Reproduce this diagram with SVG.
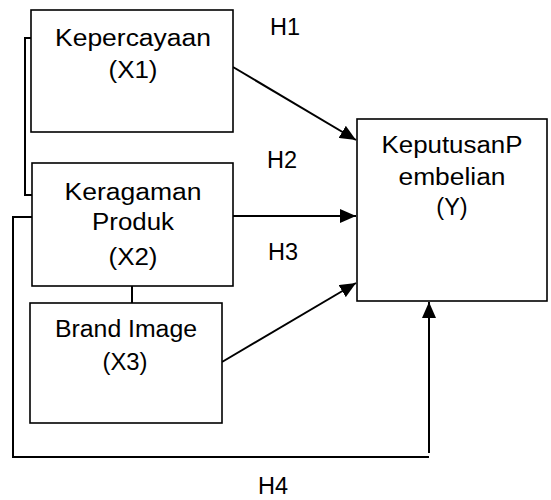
<svg xmlns="http://www.w3.org/2000/svg" width="551" height="500" viewBox="0 0 551 500">
<defs>
<marker id="ah" markerUnits="userSpaceOnUse" markerWidth="17" markerHeight="14" refX="16" refY="7" orient="auto">
<path d="M0,0 L16,7 L0,14 z" fill="#000"/>
</marker>
<style>
.box{fill:#fff;stroke:#000;stroke-width:1.6}
.t{font-family:"Liberation Sans",Arial,sans-serif;font-size:23.5px;fill:#000;text-anchor:middle}
.h{font-family:"Liberation Sans",Arial,sans-serif;font-size:23.5px;fill:#000}
.ln{fill:none;stroke:#000;stroke-width:2}
</style>
</defs>
<rect width="551" height="500" fill="#fff"/>
<g id="connectors">
<polyline class="ln" points="31,38 25,38 25,195 32,195" stroke-width="1.6"/>
<line class="ln" x1="132" y1="286" x2="132" y2="303" stroke-width="1.6"/>
<polyline class="ln" points="32,217 13,217 13,457 429,457"/>
<line class="ln" x1="429" y1="453" x2="429" y2="302" marker-end="url(#ah)"/>
<line class="ln" x1="233" y1="67" x2="356" y2="140" marker-end="url(#ah)"/>
<line class="ln" x1="233" y1="216" x2="356" y2="216" marker-end="url(#ah)"/>
<line class="ln" x1="222" y1="362" x2="356" y2="283" marker-end="url(#ah)"/>
</g>
<g id="x1">
<rect class="box" x="31" y="10" width="202" height="122"/>
<text class="t" x="133" y="46" textLength="156" lengthAdjust="spacingAndGlyphs">Kepercayaan</text>
<text class="t" x="133" y="78" textLength="49" lengthAdjust="spacingAndGlyphs">(X1)</text>
</g>
<g id="x2">
<rect class="box" x="32" y="163" width="201" height="123"/>
<text class="t" x="133" y="200" textLength="137" lengthAdjust="spacingAndGlyphs">Keragaman</text>
<text class="t" x="133" y="230" textLength="82" lengthAdjust="spacingAndGlyphs">Produk</text>
<text class="t" x="133" y="265" textLength="49" lengthAdjust="spacingAndGlyphs">(X2)</text>
</g>
<g id="x3">
<rect class="box" x="30" y="303" width="192" height="120"/>
<text class="t" x="126" y="337" textLength="142" lengthAdjust="spacingAndGlyphs">Brand Image</text>
<text class="t" x="125" y="370" textLength="45" lengthAdjust="spacingAndGlyphs">(X3)</text>
</g>
<g id="y">
<rect class="box" x="357" y="119" width="190" height="182"/>
<text class="t" x="452" y="153" textLength="141" lengthAdjust="spacingAndGlyphs">KeputusanP</text>
<text class="t" x="452" y="185" textLength="107" lengthAdjust="spacingAndGlyphs">embelian</text>
<text class="t" x="452" y="215">(Y)</text>
</g>
<g id="labels">
<text class="h" x="270" y="35">H1</text>
<text class="h" x="267" y="168">H2</text>
<text class="h" x="268" y="260">H3</text>
<text class="h" x="258" y="494">H4</text>
</g>
</svg>
